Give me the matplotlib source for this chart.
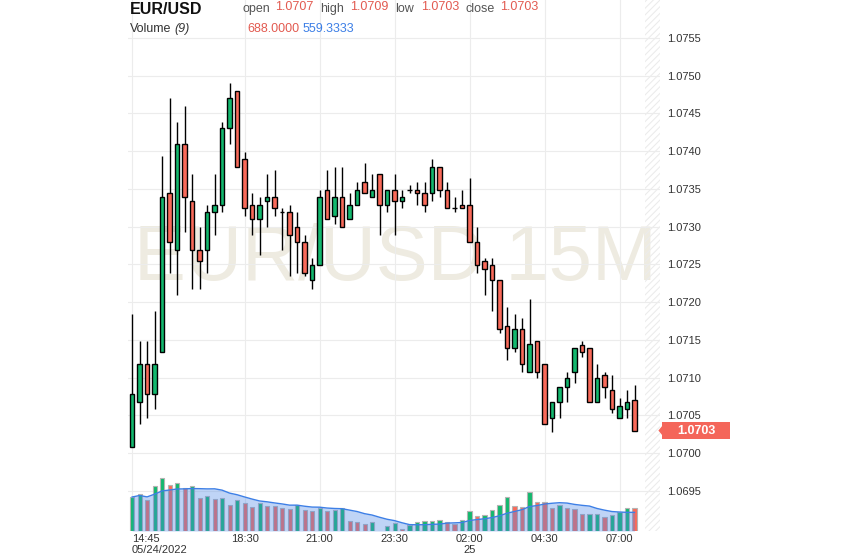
import numpy as np
import pandas as pd
import matplotlib
matplotlib.use("Agg")
import matplotlib.pyplot as plt
from matplotlib.patches import Rectangle, Polygon

# 15 minute EUR/USD candles, 14:45 (05/24/2022) .. 07:30 (05/25)
opens = [1.07008, 1.07068, 1.07118, 1.07078, 1.07134, 1.07344, 1.07269, 1.07409, 1.07334, 1.07269,
         1.07269, 1.07319, 1.07329, 1.07430, 1.07480, 1.07389, 1.07329, 1.07310, 1.07334, 1.07339,
         1.07319, 1.07319, 1.07300, 1.07279, 1.07229, 1.07249, 1.07349, 1.07314, 1.07339, 1.07310,
         1.07329, 1.07359, 1.07339, 1.07369, 1.07329, 1.07349, 1.07334, 1.07349, 1.07349, 1.07344,
         1.07344, 1.07379, 1.07349, 1.07324, 1.07329, 1.07329, 1.07279, 1.07254, 1.07249, 1.07229,
         1.07168, 1.07139, 1.07165, 1.07108, 1.07148, 1.07118, 1.07047, 1.07068, 1.07088, 1.07108,
         1.07143, 1.07139, 1.07068, 1.07103, 1.07084, 1.07047, 1.07058, 1.07070]
highs = [1.07184, 1.07148, 1.07148, 1.07188, 1.07394, 1.07470, 1.07439, 1.07460, 1.07369, 1.07300,
         1.07329, 1.07369, 1.07439, 1.07490, 1.07480, 1.07399, 1.07344, 1.07339, 1.07369, 1.07375,
         1.07324, 1.07329, 1.07319, 1.07289, 1.07259, 1.07349, 1.07375, 1.07379, 1.07379, 1.07344,
         1.07359, 1.07384, 1.07369, 1.07369, 1.07349, 1.07369, 1.07349, 1.07355, 1.07359, 1.07359,
         1.07389, 1.07379, 1.07359, 1.07339, 1.07349, 1.07364, 1.07300, 1.07259, 1.07259, 1.07229,
         1.07194, 1.07184, 1.07179, 1.07204, 1.07148, 1.07118, 1.07068, 1.07088, 1.07108, 1.07139,
         1.07148, 1.07139, 1.07118, 1.07108, 1.07103, 1.07073, 1.07084, 1.07090]
lows = [1.07008, 1.07038, 1.07047, 1.07058, 1.07134, 1.07238, 1.07209, 1.07293, 1.07218, 1.07218,
        1.07238, 1.07289, 1.07319, 1.07409, 1.07379, 1.07314, 1.07289, 1.07263, 1.07300, 1.07314,
        1.07269, 1.07234, 1.07238, 1.07234, 1.07218, 1.07249, 1.07310, 1.07304, 1.07300, 1.07310,
        1.07329, 1.07344, 1.07339, 1.07289, 1.07319, 1.07289, 1.07324, 1.07344, 1.07329, 1.07319,
        1.07334, 1.07339, 1.07324, 1.07319, 1.07324, 1.07279, 1.07238, 1.07209, 1.07188, 1.07159,
        1.07124, 1.07134, 1.07108, 1.07108, 1.07099, 1.07039, 1.07028, 1.07047, 1.07068, 1.07093,
        1.07128, 1.07068, 1.07068, 1.07073, 1.07053, 1.07047, 1.07047, 1.07030]
closes = [1.07078, 1.07118, 1.07078, 1.07118, 1.07339, 1.07279, 1.07409, 1.07339, 1.07269, 1.07254,
          1.07319, 1.07329, 1.07430, 1.07470, 1.07379, 1.07324, 1.07310, 1.07329, 1.07339, 1.07324,
          1.07319, 1.07289, 1.07279, 1.07238, 1.07249, 1.07339, 1.07310, 1.07339, 1.07300, 1.07329,
          1.07349, 1.07344, 1.07349, 1.07329, 1.07349, 1.07334, 1.07339, 1.07349, 1.07344, 1.07329,
          1.07379, 1.07349, 1.07324, 1.07324, 1.07324, 1.07279, 1.07249, 1.07244, 1.07229, 1.07165,
          1.07139, 1.07165, 1.07118, 1.07144, 1.07108, 1.07039, 1.07068, 1.07088, 1.07099, 1.07139,
          1.07134, 1.07068, 1.07099, 1.07088, 1.07058, 1.07063, 1.07068, 1.07030]
volumes = [1020, 1110, 940, 1350, 1590, 1370, 1440, 1290, 1350, 990,
           1050, 960, 990, 790, 930, 840, 720, 840, 760, 750,
           690, 660, 790, 640, 610, 690, 610, 640, 690, 310,
           280, 210, 270, 10, 150, 240, 60, 190, 270, 300,
           310, 330, 280, 220, 330, 600, 450, 480, 630, 790,
           1020, 750, 710, 1170, 870, 860, 690, 780, 690, 660,
           500, 510, 520, 420, 480, 560, 696, 688]

tick_idx = [0, 15, 25, 35, 45, 55, 65]
tick_labels = ["14:45\n05/24/2022", "18:30", "21:00", "23:30", "02:00\n25", "04:30", "07:00"]
price_ticks = [1.0695, 1.0700, 1.0705, 1.0710, 1.0715, 1.0720, 1.0725, 1.0730, 1.0735,
               1.0740, 1.0745, 1.0750, 1.0755]

last_open, last_high, last_low, last_close = "1.0707", "1.0709", "1.0703", "1.0703"
last_vol, last_vol_ma = "688.0000", "559.3333"

GREEN = "#13b86e"
RED = "#f96a5a"
TXT_RED = "#e25a50"
BLUE = "#3d7fe6"

plt.rcParams["font.family"] = ["Liberation Sans", "DejaVu Sans"]
plt.rcParams["hatch.linewidth"] = 0.8

fig = plt.figure(figsize=(8.43, 5.58), dpi=100)
L, R, B, T = 128 / 843, 660 / 843, 27 / 558, 1.0
ax = fig.add_axes([L, B, R - L, T - B])
axv = fig.add_axes([L, B, R - L, T - B], sharex=ax)
axv.patch.set_visible(False)

x = np.arange(len(opens))
o = np.array(opens)
c = np.array(closes)
up = c >= o
body_col = [GREEN if u else RED for u in up]
body_h = np.maximum(np.abs(c - o), 1e-7)

# watermark
ax.text(0.502, 1.07257, "EUR/USD 15M", transform=ax.get_yaxis_transform(),
        ha="center", va="center", fontsize=56, color="#eeebe1", zorder=0)

ax.vlines(x, lows, highs, color="black", lw=1, zorder=2)
ax.bar(x, body_h, bottom=np.minimum(o, c), width=0.6, color=body_col,
       edgecolor="black", linewidth=1, zorder=3)

# hatched "future" area on the right
ax.axvspan(68.4, 70.4, facecolor="none", edgecolor="#ececec", hatch="/////", lw=0, zorder=1)

ax.set_xlim(-0.55, 70.4)
ax.set_ylim(1.06897, 1.0760)
ax.set_yticks(price_ticks)
ax.set_yticklabels([f"{p:.4f}" for p in price_ticks])
ax.yaxis.tick_right()
ax.tick_params(axis="y", length=0, pad=5, labelsize=8, labelcolor="#333333")
ax.set_xticks(tick_idx)
ax.set_xticklabels(tick_labels)
ax.tick_params(axis="x", length=0, pad=2, labelsize=8, labelcolor="#333333")
xl = ax.get_xticklabels()
xl[0].set_horizontalalignment("left")
xl[0].set_multialignment("left")
ax.grid(True, color="#ececec", lw=0.8)
ax.set_axisbelow(True)
for s in ax.spines.values():
    s.set_visible(False)

# volume pane
vol = np.array(volumes)
vol_up = np.r_[True, vol[1:] > vol[:-1]]
vol_col = [GREEN if u else RED for u in vol_up]
axv.bar(x, vol, width=0.55, color=vol_col, edgecolor="#b4b4b4", linewidth=0.8, zorder=2)
vol_ma = pd.Series(volumes).rolling(9, min_periods=1).mean()
axv.fill_between(x, vol_ma, color="#4a86e8", alpha=0.35, lw=0, zorder=3)
axv.plot(x, vol_ma, color=BLUE, lw=1, zorder=4)
axv.set_ylim(0, 15930)
axv.axis("off")

# last price badge
tr = ax.get_yaxis_transform()
lp = float(last_close)
ax.add_patch(Rectangle((1.004, lp - 0.000113), 0.128, 0.000226, transform=tr,
                       facecolor="#f4665a", edgecolor="none", clip_on=False, zorder=5))
ax.add_patch(Polygon([(1.004, lp + 0.00006), (0.997, lp), (1.004, lp - 0.00006)], closed=True,
                     transform=tr, facecolor="#f4665a", edgecolor="none", clip_on=False, zorder=5))
ax.text(1.068, lp, last_close, transform=tr, ha="center", va="center", color="white",
        fontsize=9, fontweight="bold", zorder=6)

# header
yh1 = 1 - 9 / 558
yh2 = 1 - 29 / 558
fig.text(130 / 843, yh1, "EUR/USD", fontsize=11.5, fontweight="bold", va="center", color="#111111")
fig.text(242 / 843, yh1, "open", fontsize=9, va="center", color="#555555")
fig.text(275 / 843, yh1 + 0.003, last_open, fontsize=9, va="center", color=TXT_RED)
fig.text(320 / 843, yh1, "high", fontsize=9, va="center", color="#555555")
fig.text(350 / 843, yh1 + 0.003, last_high, fontsize=9, va="center", color=TXT_RED)
fig.text(395 / 843, yh1, "low", fontsize=9, va="center", color="#555555")
fig.text(421 / 843, yh1 + 0.003, last_low, fontsize=9, va="center", color=TXT_RED)
fig.text(465 / 843, yh1, "close", fontsize=9, va="center", color="#555555")
fig.text(500 / 843, yh1 + 0.003, last_close, fontsize=9, va="center", color=TXT_RED)
fig.text(130 / 843, yh2, "Volume", fontsize=9, va="center", color="#333333")
fig.text(174 / 843, yh2, "(9)", fontsize=9, va="center", color="#333333", style="italic")
fig.text(247 / 843, yh2, last_vol, fontsize=9, va="center", color=TXT_RED)
fig.text(303 / 843, yh2, last_vol_ma, fontsize=9, va="center", color=BLUE)

fig.savefig("out.png", dpi=100)
